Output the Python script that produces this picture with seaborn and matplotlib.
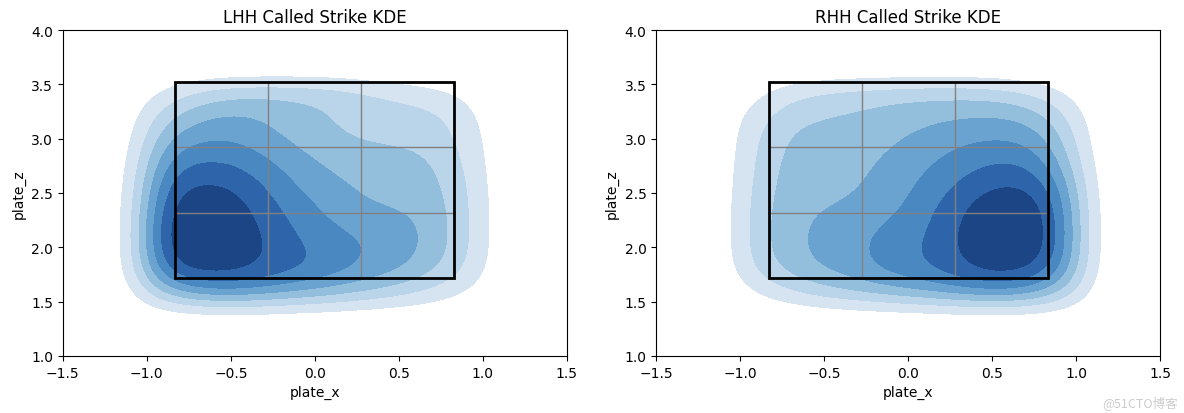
import matplotlib
matplotlib.use("Agg")
import matplotlib.pyplot as plt
import matplotlib.patches as patches
from matplotlib.colors import ListedColormap
import numpy as np
import pandas as pd
import seaborn as sns
from seaborn._statistics import KDE

# pitch location grid (feet) and relative called-strike density
x_pos = [-0.9, -0.7, -0.5, -0.3, -0.1, 0.1, 0.3, 0.5, 0.7, 0.9]
z_pos = [3.4, 3.2, 3.0, 2.8, 2.6, 2.4, 2.2, 2.0, 1.8, 1.6]

lhh_weights = [
    [1.2, 2.4, 3.0, 3.2, 3.2, 3.0, 2.4, 1.8, 1.4, 0.8],
    [2.8, 3.7, 4.3, 3.8, 3.2, 2.8, 2.6, 2.5, 2.4, 1.4],
    [4.0, 4.8, 4.8, 4.2, 3.6, 3.0, 2.7, 2.6, 2.6, 1.7],
    [5.3, 5.9, 5.8, 5.0, 4.2, 3.6, 3.4, 3.4, 3.0, 1.9],
    [6.5, 6.9, 6.8, 5.7, 4.6, 4.0, 3.6, 3.5, 3.4, 2.1],
    [7.3, 7.7, 7.5, 6.2, 5.2, 4.5, 3.8, 3.6, 3.5, 2.3],
    [8.0, 8.0, 7.8, 6.6, 5.6, 4.8, 4.6, 4.5, 3.6, 2.3],
    [8.0, 8.0, 7.8, 6.8, 6.0, 5.4, 4.8, 4.6, 3.6, 2.3],
    [7.0, 7.5, 7.5, 6.7, 6.2, 5.6, 4.8, 4.2, 3.2, 2.0],
    [3.5, 5.0, 5.4, 5.0, 4.4, 3.9, 3.2, 2.6, 1.8, 1.0],
]

rhh_weights = [
    [0.6, 1.8, 2.4, 2.7, 2.9, 3.0, 3.0, 2.8, 2.2, 1.2],
    [1.6, 2.8, 2.9, 3.0, 3.3, 3.6, 3.8, 4.0, 3.8, 2.6],
    [2.0, 3.2, 3.3, 3.4, 3.7, 4.2, 4.6, 4.8, 4.8, 3.4],
    [2.2, 3.4, 3.5, 3.6, 4.0, 4.6, 5.2, 5.8, 5.8, 4.2],
    [2.4, 3.5, 3.6, 3.7, 4.2, 5.0, 5.8, 6.6, 6.8, 5.4],
    [2.6, 3.6, 3.7, 3.9, 4.4, 5.4, 6.4, 7.6, 7.8, 6.2],
    [2.7, 3.6, 4.2, 4.5, 5.0, 5.6, 6.8, 8.0, 8.0, 6.6],
    [2.7, 3.6, 4.3, 4.6, 5.4, 5.8, 6.8, 8.0, 8.0, 6.6],
    [2.4, 3.4, 4.1, 4.5, 5.4, 5.8, 6.6, 7.6, 7.4, 5.8],
    [1.0, 2.0, 2.8, 3.4, 3.9, 4.4, 5.0, 5.4, 5.0, 3.4],
]

# strike zone edges
sz_left, sz_right = -0.83, 0.83
sz_bot, sz_top = 1.72, 3.52

# contour band colours (light -> dark)
band_colors = ["#d6e4f2", "#bad5ea", "#93bfdd", "#6ba3d0", "#4a88c2", "#2e65aa", "#1b4584"]
bw_factor = 0.28


def make_df(weights):
    xx, zz = np.meshgrid(x_pos, z_pos)
    return pd.DataFrame({"plate_x": xx.ravel(), "plate_z": zz.ravel(),
                         "w": np.asarray(weights).ravel()})


def equal_density_levels(df, n_bands):
    # iso-proportions that give evenly spaced density contours (old seaborn look)
    kde = KDE(bw_method=bw_factor)
    density, _ = kde(df["plate_x"].to_numpy(), df["plate_z"].to_numpy(),
                     weights=df["w"].to_numpy())
    values = np.sort(density.ravel())
    total = values.sum()
    peak = values[-1]
    props = [values[values < peak * k / (n_bands + 1)].sum() / total
             for k in range(1, n_bands + 1)]
    return props + [1.0]


def strike_zone(ax):
    ax.add_patch(patches.Rectangle((sz_left, sz_bot), sz_right - sz_left, sz_top - sz_bot,
                                   fill=False, edgecolor="black", lw=2, zorder=5))
    dx = (sz_right - sz_left) / 3
    dz = (sz_top - sz_bot) / 3
    for i in (1, 2):
        ax.plot([sz_left + i * dx] * 2, [sz_bot, sz_top], color="gray", lw=1, zorder=4)
        ax.plot([sz_left, sz_right], [sz_bot + i * dz] * 2, color="gray", lw=1, zorder=4)


band_cmap = ListedColormap(band_colors)

fig, axes = plt.subplots(1, 2, figsize=(11.84, 4.14), dpi=100)
fig.subplots_adjust(left=0.053, right=0.98, bottom=0.138, top=0.925, wspace=0.177)

for ax, weights, title in zip(axes, [lhh_weights, rhh_weights],
                              ["LHH Called Strike KDE", "RHH Called Strike KDE"]):
    df = make_df(weights)
    lv = equal_density_levels(df, len(band_colors))
    sns.kdeplot(data=df, x="plate_x", y="plate_z", weights="w", fill=True,
                cmap=band_cmap, levels=lv, bw_method=bw_factor, ax=ax)
    strike_zone(ax)
    ax.set_xlim(-1.5, 1.5)
    ax.set_ylim(1.0, 4.0)
    ax.set_xticks(np.arange(-1.5, 1.51, 0.5))
    ax.set_yticks(np.arange(1.0, 4.01, 0.5))
    ax.set_title(title)
    ax.set_xlabel("plate_x")
    ax.set_ylabel("plate_z")

fig.text(0.995, 0.01, "@51CTO博客", ha="right", va="bottom", color="#cccccc", fontsize=9,
         family=["Noto Sans CJK SC", "DejaVu Sans"])

fig.savefig("out.png")
